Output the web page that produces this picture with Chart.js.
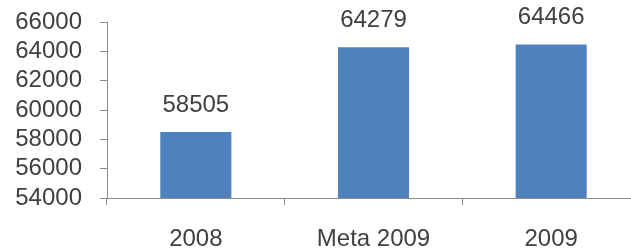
<!DOCTYPE html>
<html>
<head>
<meta charset="utf-8">
<script src="https://cdn.jsdelivr.net/npm/chart.js@4/dist/chart.umd.min.js"></script>
<style>
  html, body { margin: 0; padding: 0; background: #fff; overflow: hidden; }
  #wrap { width: 660px; height: 252px; }
</style>
</head>
<body>
<div id="wrap"><canvas id="barChart" width="660" height="252"></canvas></div>
<script>
const categories = ["2008", "Meta 2009", "2009"];
const values = [58505, 64279, 64466];
const yMin = 54000;
const yMax = 66000;
const yStep = 2000;

const textColor = "#404040";
const axisColor = "#8c8c8c";
const fontFamily = "'Liberation Sans', Arial, sans-serif";

// draws the number above each bar
const valueLabels = {
  id: "valueLabels",
  afterDatasetsDraw(chart) {
    const ctx = chart.ctx;
    const meta = chart.getDatasetMeta(0);
    ctx.save();
    ctx.font = "24px " + fontFamily;
    ctx.fillStyle = textColor;
    ctx.textAlign = "center";
    ctx.textBaseline = "middle";
    meta.data.forEach(function (bar, i) {
      ctx.fillText(String(values[i]), bar.x, bar.y - 27);
    });
    ctx.restore();
  },
};

new Chart(document.getElementById("barChart"), {
  type: "bar",
  data: {
    labels: categories,
    datasets: [
      {
        data: values,
        backgroundColor: "#4f81bd",
        borderWidth: 0,
        barPercentage: 0.4,
        categoryPercentage: 1.0,
      },
    ],
  },
  options: {
    responsive: false,
    animation: false,
    layout: { padding: { top: 22, right: 20, bottom: 0, left: 0 } },
    scales: {
      x: {
        grid: { drawOnChartArea: false, drawTicks: true, tickLength: 7, color: axisColor },
        border: { display: true, color: axisColor },
        ticks: { color: textColor, font: { family: fontFamily, size: 24 }, padding: 20, maxRotation: 0 },
        afterFit(scale) {
          scale.height = 54;
          scale.paddingLeft = 0;
          scale.paddingRight = 0;
        },
      },
      y: {
        min: yMin,
        max: yMax,
        grid: { drawOnChartArea: false, drawTicks: true, tickLength: 7, color: axisColor },
        border: { display: true, color: axisColor },
        ticks: {
          stepSize: yStep,
          autoSkip: false,
          color: textColor,
          font: { family: fontFamily, size: 24 },
          padding: 18,
          callback: function (v) { return String(v); },
        },
        afterFit(scale) {
          scale.width = 107;
          scale.paddingTop = 0;
          scale.paddingBottom = 0;
        },
      },
    },
    plugins: {
      legend: { display: false },
      tooltip: { enabled: false },
    },
  },
  plugins: [valueLabels],
});
</script>
</body>
</html>
